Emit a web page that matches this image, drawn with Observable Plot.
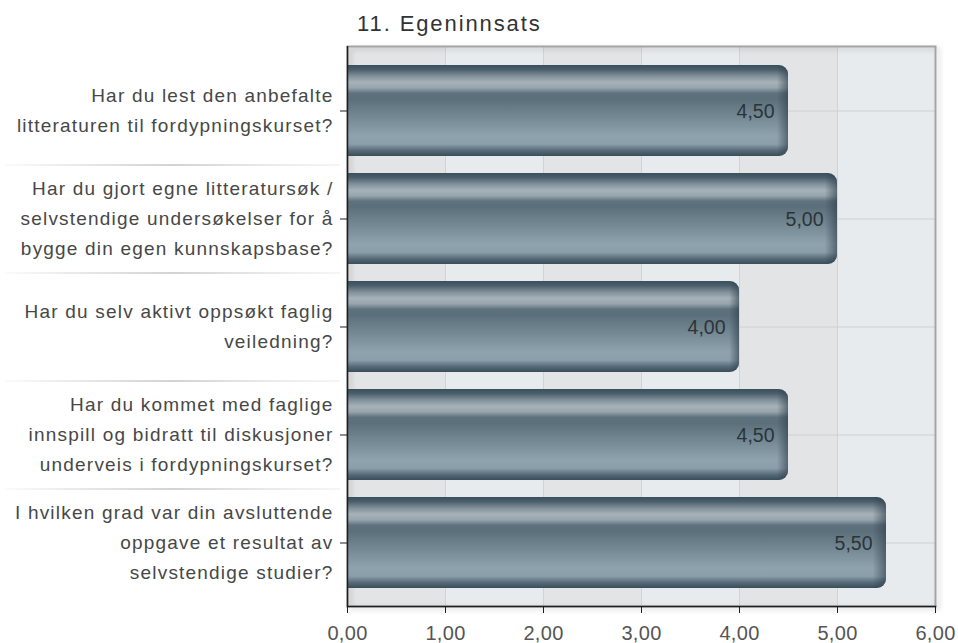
<!DOCTYPE html>
<html>
<head>
<meta charset="utf-8">
<script src="https://cdn.jsdelivr.net/npm/d3@7"></script>
<script src="https://cdn.jsdelivr.net/npm/@observablehq/plot@0.6"></script>
<style>
  html, body { margin: 0; padding: 0; background: #fff; }
  #wrap { position: relative; width: 958px; height: 643px; padding-top: 40px; box-sizing: border-box; }
  #title { position: absolute; left: 357px; top: 13px; font-family: "Liberation Sans", Arial, sans-serif; font-size: 22px; line-height: 22px; color: #333; letter-spacing: 1.9px; white-space: nowrap; }
  svg { display: block; }
</style>
</head>
<body>
<div id="wrap"><div id="title"></div><div id="chart"></div></div>
<script>
const title = "11. Egeninnsats";
const questions = [
  "Har du lest den anbefalte\nlitteraturen til fordypningskurset?",
  "Har du gjort egne litteratursøk /\nselvstendige undersøkelser for å\nbygge din egen kunnskapsbase?",
  "Har du selv aktivt oppsøkt faglig\nveiledning?",
  "Har du kommet med faglige\ninnspill og bidratt til diskusjoner\nunderveis i fordypningskurset?",
  "I hvilken grad var din avsluttende\noppgave et resultat av\nselvstendige studier?"
];
const values = [4.5, 5.0, 4.0, 4.5, 5.5];
const xTicks = [0, 1, 2, 3, 4, 5, 6];

document.getElementById("title").textContent = title;

const data = questions.map((q, i) => ({q, v: values[i]}));
const fmt = d3.formatLocale({decimal: ",", thousands: "\u00a0", grouping: [3], currency: ["", ""]}).format(".2f");
const bands = d3.pairs(xTicks).map(([a, b], i) => ({a, b, i}));

const svg = Plot.plot({
  width: 958,
  height: 603,
  marginTop: 6,
  marginBottom: 37,
  marginLeft: 347,
  marginRight: 23,
  x: {domain: [xTicks[0], xTicks[xTicks.length - 1]], label: null},
  y: {domain: questions, padding: 0.16, label: null},
  style: {fontFamily: "'Liberation Sans', Arial, sans-serif", background: "#fff", overflow: "visible"},
  marks: [
    Plot.rect(bands.filter(d => d.i % 2 === 0), {x1: "a", x2: "b", fill: "#e3e4e6"}),
    Plot.rect(bands.filter(d => d.i % 2 === 1), {x1: "a", x2: "b", fill: "#e8ebee"}),
    Plot.gridX({ticks: xTicks, stroke: "#d2d3d5", strokeOpacity: 1}),
    Plot.gridY({stroke: "#cfd0d2", strokeOpacity: 1}),
    Plot.frame({stroke: "#a4a4a4", strokeWidth: 2}),
    Plot.ruleY(questions.slice(0, -1), {dy: 54, insetLeft: -342, insetRight: 595, stroke: "url(#sepGrad)", strokeWidth: 1.2}),
    Plot.barX(data, {x: "v", y: "q", fill: "url(#barGrad)", rx: 9}),
    Plot.barX(data, {x1: 0, x2: d => d.v / 2, y: "q", fill: "url(#barGrad)"}),
    Plot.barX(data, {x: "v", y: "q", fill: "url(#edgeGrad)", rx: 9}),
    Plot.text(data, {x: "v", y: "q", text: d => fmt(d.v), textAnchor: "end", dx: -14, dy: 1, fontSize: 19.5, fill: "#2b3439"}),
    Plot.ruleX([xTicks[0]], {stroke: "#1e1e1e", strokeWidth: 1.5}),
    Plot.frame({anchor: "bottom", stroke: "#1e1e1e", strokeWidth: 1.5}),
    Plot.axisY({tickSize: 7, tickPadding: 7, fontSize: 19, lineHeight: 1.58, color: "#1e1e1e"}),
    Plot.axisX({ticks: xTicks, tickFormat: fmt, tickSize: 7, tickPadding: 12, fontSize: 20, color: "#1e1e1e"})
  ]
});

const s = d3.select(svg);
const defs = s.insert("defs", ":first-child");
const bg = defs.append("linearGradient").attr("id", "barGrad").attr("x1", 0).attr("y1", 0).attr("x2", 0).attr("y2", 1);
[
  [0, "#3a4e5b"], [0.05, "#4a5f6c"], [0.12, "#808f99"], [0.19, "#a6b2b9"], [0.25, "#98a5ad"],
  [0.31, "#5e727e"], [0.37, "#5b6f7b"], [0.78, "#8fa3ae"], [0.87, "#8b9faa"], [0.94, "#566b78"], [1, "#394d59"]
].forEach(([o, c]) => bg.append("stop").attr("offset", o).attr("stop-color", c));
const eg = defs.append("linearGradient").attr("id", "edgeGrad").attr("x1", 0).attr("y1", 0).attr("x2", 1).attr("y2", 0);
eg.append("stop").attr("offset", 0.975).attr("stop-color", "#2c3d48").attr("stop-opacity", 0);
eg.append("stop").attr("offset", 1).attr("stop-color", "#2c3d48").attr("stop-opacity", 0.6);
const sg = defs.append("linearGradient").attr("id", "sepGrad").attr("gradientUnits", "userSpaceOnUse").attr("x1", 5).attr("x2", 340).attr("y1", 0).attr("y2", 0);
[[0, "#f6f6f6"], [0.2, "#d6d6d6"], [0.5, "#a8a8a8"], [0.8, "#d6d6d6"], [1, "#ececec"]]
  .forEach(([o, c]) => sg.append("stop").attr("offset", o).attr("stop-color", c));
const f = defs.append("filter").attr("id", "shadow").attr("x", "-5%").attr("y", "-5%").attr("width", "110%").attr("height", "110%");
f.append("feDropShadow").attr("dx", 3).attr("dy", 2).attr("stdDeviation", 2.5).attr("flood-color", "#000").attr("flood-opacity", 0.18);

const frames = s.selectAll('[aria-label="frame"]').nodes();
if (frames.length) d3.select(frames[0]).attr("filter", "url(#shadow)");
s.selectAll('[aria-label="y-axis tick label"]')
  .attr("fill", "#474747").attr("letter-spacing", "1.2px")
  .attr("transform", function() { const t = this.getAttribute("transform"); return (t ? t + " " : "") + "translate(0,-4)"; });
s.selectAll('[aria-label="x-axis tick label"]').attr("fill", "#555").attr("letter-spacing", "0.3px");

document.getElementById("chart").appendChild(svg);
</script>
</body>
</html>
